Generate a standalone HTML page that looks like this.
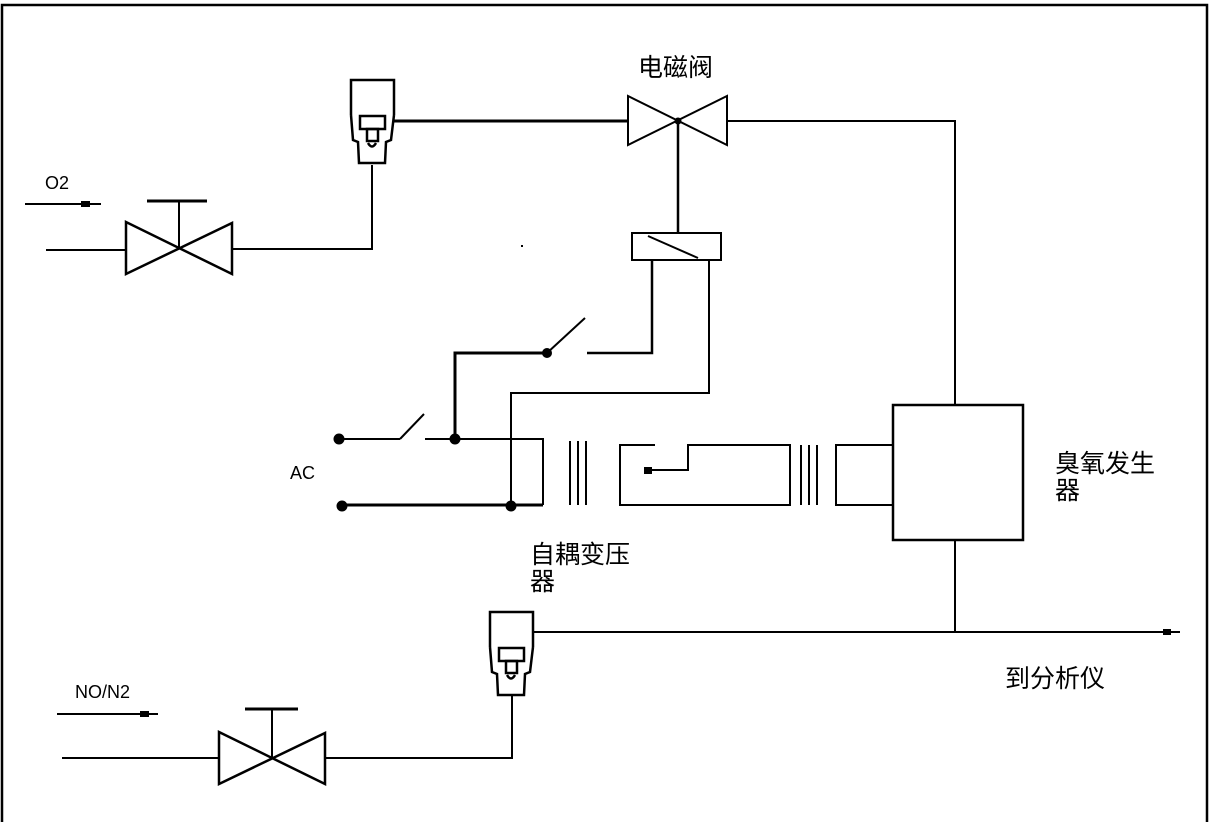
<!DOCTYPE html>
<html><head><meta charset="utf-8"><style>
html,body{margin:0;padding:0;background:#fff}
svg{display:block}
text{font-family:"Liberation Sans","Noto Sans CJK SC",sans-serif;fill:#000}
</style></head><body>
<svg width="1209" height="822" viewBox="0 0 1209 822">
<g fill="none" stroke="#000" stroke-width="2">
<path d="M2,822 V5 H1207 V822" stroke-width="2.5"/>
<line x1="25" y1="204" x2="101" y2="204"/>
<rect x="81" y="201" width="9" height="6" fill="#000" stroke="none"/>
<line x1="46" y1="250" x2="126" y2="250"/>
<g>
<polygon points="126,222 126,274 232,223 232,274" stroke-width="2.5"/>
<line x1="179" y1="201" x2="179" y2="248"/>
<line x1="147" y1="201" x2="207" y2="201" stroke-width="3"/>
</g>
<path d="M232,249 H372 V165"/>
<g stroke-width="2.5">
<path d="M351,115 V80 H394 V115"/>
<path d="M351,115 L353,140 L358,142 L359,163 H385 L386,142 L391,140 L394,115"/>
<rect x="360" y="116" width="25" height="13"/>
<rect x="367" y="129" width="11" height="12"/>
<path d="M368,143 Q372,150 376,143"/>
</g>
<line x1="394" y1="121" x2="627" y2="121" stroke-width="3"/>
<g>
<polygon points="628,96 628,145 727,96 727,145"/>
<circle cx="678" cy="121" r="2.5" fill="#000"/>
</g>
<path d="M727,121 H955 V405"/>
<line x1="678" y1="121" x2="678" y2="233" stroke-width="2.5"/>
<g>
<rect x="632" y="233" width="89" height="27"/>
<line x1="648" y1="236" x2="698" y2="258"/>
</g>
<path d="M652,260 V353 H587" stroke-width="2.5"/>
<path d="M709,260 V393 H511 V505"/>
<path d="M455,439 V353 H547" stroke-width="3"/>
<line x1="547" y1="353" x2="585" y2="318"/>
<circle cx="547" cy="353" r="4" fill="#000"/>
<line x1="338" y1="439" x2="400" y2="439"/>
<line x1="400" y1="439" x2="424" y2="414"/>
<path d="M425,439 H543 V505"/>
<line x1="342" y1="505" x2="543" y2="505" stroke-width="3"/>
<circle cx="339" cy="439" r="4.5" fill="#000"/>
<circle cx="455" cy="439" r="4.5" fill="#000"/>
<circle cx="342" cy="506" r="4.5" fill="#000"/>
<circle cx="511" cy="506" r="4.5" fill="#000"/>
<g>
<line x1="570" y1="441" x2="570" y2="505"/>
<line x1="578" y1="441" x2="578" y2="505"/>
<line x1="586" y1="441" x2="586" y2="505"/>
<path d="M655,445 H620 V505 H790 V445 H688 V470 H648"/>
<rect x="644" y="467" width="8" height="7" fill="#000" stroke="none"/>
<line x1="801" y1="445" x2="801" y2="505"/>
<line x1="809" y1="445" x2="809" y2="505"/>
<line x1="817" y1="445" x2="817" y2="505"/>
<path d="M893,445 H836 V505 H893"/>
</g>
<rect x="893" y="405" width="130" height="135" stroke-width="2.5"/>
<path d="M955,540 V632"/>
<line x1="533" y1="632" x2="1180" y2="632"/>
<rect x="1163" y="629" width="8" height="6" fill="#000" stroke="none"/>
<g stroke-width="2.5">
<path d="M490,647 V612 H533 V647"/>
<path d="M490,647 L492,672 L497,674 L498,695 H524 L525,674 L530,672 L533,647"/>
<rect x="499" y="648" width="25" height="13"/>
<rect x="506" y="661" width="11" height="12"/>
<path d="M507,675 Q511,682 515,675"/>
</g>
<path d="M512,695 V758 H325"/>
<g>
<polygon points="219,732 219,784 325,733 325,784" stroke-width="2.5"/>
<line x1="272" y1="709" x2="272" y2="757"/>
<line x1="245" y1="709" x2="298" y2="709" stroke-width="3"/>
</g>
<line x1="62" y1="758" x2="219" y2="758"/>
<line x1="57" y1="714" x2="158" y2="714"/>
<rect x="140" y="711" width="9" height="6" fill="#000" stroke="none"/>
</g>
<rect x="521" y="245" width="2" height="2" fill="#000"/>
<text x="45" y="189" font-size="18">O2</text>
<text x="75" y="698" font-size="18">NO/N2</text>
<text x="290" y="479" font-size="18">AC</text>
<text x="638" y="76" font-size="25">电磁阀</text>
<text x="530" y="563" font-size="25">自耦变压</text>
<text x="530" y="590" font-size="25">器</text>
<text x="1055" y="472" font-size="25">臭氧发生</text>
<text x="1055" y="499" font-size="25">器</text>
<text x="1005" y="687" font-size="25">到分析仪</text>
</svg>
</body></html>
